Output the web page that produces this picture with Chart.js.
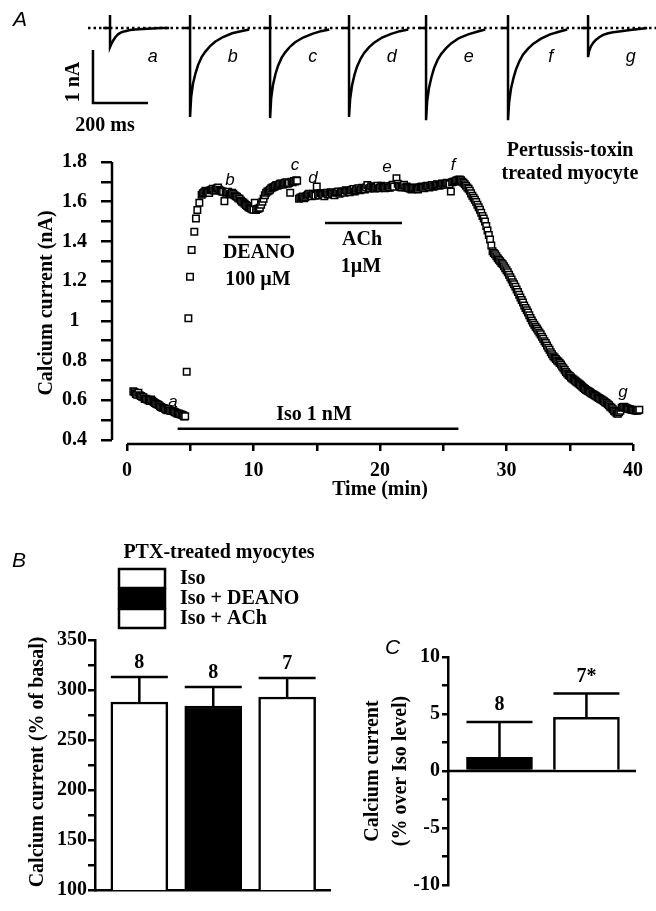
<!DOCTYPE html>
<html>
<head>
<meta charset="utf-8">
<script src="https://cdn.jsdelivr.net/npm/chart.js@4.4.1/dist/chart.umd.min.js"></script>
<style>
  body { margin: 0; background: #fff; }
  #page { position: relative; width: 656px; height: 911px; }
  #page canvas { position: absolute; left: 0; top: 0; }
</style>
</head>
<body>
<div id="page">
  <canvas id="traces" width="656" height="911"></canvas>
  <canvas id="timecourse" width="656" height="911"></canvas>
  <canvas id="panelB" width="656" height="911"></canvas>
  <canvas id="panelC" width="656" height="911"></canvas>
</div>
<script>
// ---- current traces (ms, nA) ----
const traceNames = ['a', 'b', 'c', 'd', 'e', 'f', 'g'];
const traceStartMs = [182, 473, 764, 1051, 1331, 1629, 1920];
const traceOffsetMs = [0, 4, 11, 20, 29, 42, 55, 73, 91, 120, 153, 185, 215];
const traceA = [-0.36, -0.31, -0.24, -0.17, -0.12, -0.08, -0.06, -0.04, -0.03, -0.02, -0.01, 0, 0];
const traceB = [-1.68, -1.30, -1.04, -0.85, -0.70, -0.55, -0.45, -0.34, -0.26, -0.17, -0.10, -0.06, -0.03];
const traceC = [-1.70, -1.32, -1.06, -0.86, -0.71, -0.56, -0.46, -0.35, -0.27, -0.18, -0.11, -0.06, -0.03];
const traceD = [-1.68, -1.34, -1.08, -0.88, -0.73, -0.58, -0.47, -0.36, -0.28, -0.18, -0.11, -0.06, -0.03];
const traceE = [-1.74, -1.38, -1.12, -0.92, -0.76, -0.60, -0.49, -0.38, -0.29, -0.19, -0.12, -0.07, -0.03];
const traceF = [-1.74, -1.40, -1.14, -0.94, -0.78, -0.62, -0.50, -0.39, -0.30, -0.20, -0.12, -0.07, -0.03];
const traceG = [-0.55, -0.43, -0.34, -0.27, -0.22, -0.17, -0.13, -0.10, -0.08, -0.06, -0.04, -0.02, 0];
const traceCurrents = [traceA, traceB, traceC, traceD, traceE, traceF, traceG];
const spikeTopNA = 0.245;
const scaleBarMs = [120, 120, 320];
const scaleBarNA = [-0.415, -1.415, -1.415];

// ---- time course (min, nA) ----
const basalPts = [[0.5,0.645],[0.6,0.640],[0.7,0.632],[0.8,0.628],[0.9,0.638],[1.0,0.626],[1.1,0.622],[1.2,0.618],
  [1.3,0.615],[1.4,0.606],[1.5,0.608],[1.6,0.604],[1.7,0.600],[1.8,0.596],[1.9,0.604],[2.0,0.598],[2.1,0.592],
  [2.2,0.586],[2.3,0.583],[2.4,0.580],[2.5,0.576],[2.6,0.570],[2.7,0.566],[2.8,0.563],[2.9,0.561],[3.0,0.558],
  [3.1,0.553],[3.2,0.550],[3.3,0.556],[3.4,0.549],[3.5,0.547],[3.6,0.546],[3.7,0.544],[3.8,0.540],[3.9,0.537],
  [4.0,0.532],[4.1,0.534],[4.2,0.530],[4.3,0.529],[4.38,0.526],[4.45,0.524],[4.52,0.518],[4.6,0.520]];
const risePts = [[4.72,0.744],[4.85,1.013],[4.98,1.222],[5.11,1.357],[5.32,1.449],[5.45,1.516],[5.56,1.558],[5.72,1.595]];
const deanoPts = [[5.9,1.635],[6.0,1.642],[6.1,1.648],[6.2,1.655],[6.3,1.652],[6.4,1.648],[6.5,1.644],[6.6,1.658],
  [6.7,1.662],[6.8,1.665],[6.9,1.655],[7.0,1.660],[7.1,1.668],[7.2,1.672],[7.3,1.660],[7.4,1.655],[7.5,1.652],
  [7.6,1.650],[7.7,1.603],[7.8,1.645],[7.9,1.648],[8.0,1.650],[8.1,1.640],[8.2,1.636],[8.3,1.645],[8.4,1.640],
  [8.5,1.632],[8.6,1.628],[8.7,1.625],[8.8,1.618],[8.9,1.615],[9.0,1.606],[9.1,1.600],[9.2,1.596],[9.3,1.590],
  [9.4,1.584],[9.5,1.578],[9.6,1.572],[9.7,1.570],[9.8,1.566],[9.9,1.562],[10.0,1.560],[10.1,1.595],[10.2,1.558],
  [10.3,1.563],[10.4,1.566],[10.5,1.570],[10.6,1.585],[10.7,1.600],[10.8,1.615],[10.9,1.632],[11.0,1.645],
  [11.1,1.652],[11.2,1.655],[11.3,1.660],[11.4,1.668],[11.5,1.672],[11.6,1.674],[11.7,1.678],[11.8,1.684],
  [11.9,1.680],[12.0,1.686],[12.1,1.690],[12.2,1.692],[12.3,1.686],[12.4,1.690],[12.5,1.695],[12.6,1.698],
  [12.7,1.690],[12.8,1.694],[12.9,1.645],[13.0,1.700],[13.1,1.698],[13.2,1.704],[13.3,1.702],[13.38,1.708],[13.45,1.705]];
const achPts = [[13.6,1.615],[13.7,1.620],[13.8,1.622],[13.9,1.626],[14.0,1.618],[14.1,1.622],[14.2,1.630],
  [14.3,1.636],[14.4,1.640],[14.5,1.632],[14.6,1.628],[14.7,1.640],[14.8,1.635],[14.9,1.630],[15.0,1.676],
  [15.1,1.638],[15.2,1.632],[15.3,1.644],[15.4,1.640],[15.5,1.634],[15.6,1.628],[15.7,1.642],[15.8,1.645],
  [15.9,1.636],[16.0,1.638],[16.1,1.648],[16.2,1.642],[16.3,1.640],[16.4,1.632],[16.5,1.645],[16.6,1.648],
  [16.7,1.652],[16.8,1.640],[16.9,1.646],[17.0,1.652],[17.1,1.650],[17.2,1.645],[17.3,1.658],[17.4,1.655],
  [17.5,1.652],[17.6,1.648],[17.7,1.656],[17.8,1.660],[17.9,1.664],[18.0,1.652],[18.1,1.658],[18.2,1.665],
  [18.3,1.668],[18.4,1.658],[18.5,1.662],[18.6,1.670],[18.7,1.665],[18.8,1.662],[18.9,1.672],[19.0,1.684],
  [19.1,1.666],[19.2,1.668],[19.3,1.678],[19.4,1.675],[19.5,1.670],[19.6,1.666],[19.7,1.674],[19.8,1.680],
  [19.9,1.668],[20.0,1.670],[20.1,1.680],[20.2,1.675],[20.3,1.672],[20.4,1.668],[20.5,1.676],[20.6,1.678],
  [20.7,1.670],[20.8,1.672],[20.9,1.680],[21.0,1.685],[21.1,1.676],[21.3,1.718],[21.4,1.690],[21.5,1.680],
  [21.6,1.676],[21.7,1.672],[21.8,1.680],[21.9,1.685],[22.0,1.672],[22.1,1.676],[22.2,1.670],[22.3,1.668],
  [22.4,1.665],[22.5,1.662],[22.6,1.668],[22.7,1.672],[22.8,1.670],[22.9,1.665],[23.0,1.662],[23.1,1.670],
  [23.2,1.674],[23.3,1.676],[23.4,1.672],[23.5,1.668],[23.6,1.676],[23.7,1.680],[23.8,1.678],[23.9,1.672],
  [24.0,1.680],[24.1,1.684],[24.2,1.676],[24.3,1.678],[24.4,1.684],[24.5,1.688],[24.6,1.686],[24.7,1.680],
  [24.8,1.684],[24.9,1.692],[25.0,1.690],[25.1,1.686],[25.2,1.692],[25.3,1.695],[25.4,1.690],[25.5,1.688],
  [25.6,1.652],[25.7,1.698],[25.8,1.700],[25.9,1.702],[26.0,1.705],[26.1,1.708],[26.2,1.710],[26.3,1.712]];
const washPts = [[26.4,1.708],[26.5,1.700],[26.6,1.695],[26.7,1.688],[26.8,1.680],[26.9,1.672],[27.0,1.665],
  [27.1,1.655],[27.2,1.642],[27.3,1.630],[27.4,1.620],[27.5,1.610],[27.6,1.598],[27.7,1.585],[27.8,1.572],
  [27.9,1.560],[28.0,1.545],[28.1,1.528],[28.2,1.515],[28.3,1.500],[28.4,1.478],[28.5,1.455],[28.6,1.432],
  [28.7,1.410],[28.8,1.380],[28.9,1.350],[29.0,1.342],[29.1,1.335],[29.2,1.325],[29.3,1.315],[29.4,1.308],
  [29.5,1.300],[29.6,1.292],[29.7,1.285],[29.8,1.275],[29.9,1.265],[30.0,1.255],[30.1,1.245],[30.2,1.232],
  [30.3,1.220],[30.4,1.208],[30.5,1.195],[30.6,1.184],[30.7,1.172],[30.8,1.158],[30.9,1.145],[31.0,1.132],
  [31.1,1.118],[31.2,1.105],[31.3,1.092],[31.4,1.078],[31.5,1.065],[31.6,1.054],[31.7,1.042],[31.8,1.028],
  [31.9,1.015],[32.0,1.002],[32.1,0.990],[32.2,0.980],[32.3,0.970],[32.4,0.962],[32.5,0.952],[32.6,0.942],
  [32.7,0.932],[32.8,0.920],[32.9,0.910],[33.0,0.898],[33.1,0.888],[33.2,0.876],[33.3,0.865],[33.4,0.854],
  [33.5,0.842],[33.6,0.832],[33.7,0.822],[33.8,0.815],[33.9,0.808],[34.0,0.800],[34.1,0.795],[34.2,0.788],
  [34.3,0.780],[34.4,0.770],[34.5,0.762],[34.6,0.752],[34.7,0.742],[34.8,0.735],[34.9,0.728],[35.0,0.722],
  [35.1,0.715],[35.2,0.710],[35.3,0.705],[35.4,0.700],[35.5,0.695],[35.6,0.690],[35.7,0.685],[35.8,0.680],
  [35.9,0.675],[36.0,0.668],[36.1,0.662],[36.2,0.657],[36.3,0.652],[36.4,0.648],[36.5,0.644],[36.6,0.640],
  [36.7,0.636],[36.8,0.632],[36.9,0.628],[37.0,0.624],[37.1,0.620],[37.2,0.616],[37.3,0.612],[37.4,0.608],
  [37.5,0.604],[37.6,0.600],[37.7,0.595],[37.8,0.590],[37.9,0.586],[38.0,0.580],[38.1,0.575],[38.2,0.568],
  [38.3,0.562],[38.4,0.555],[38.5,0.548],[38.6,0.542],[38.7,0.535],[38.8,0.532],[38.9,0.540],[39.0,0.548],
  [39.1,0.562],[39.2,0.566],[39.3,0.568],[39.4,0.564],[39.5,0.560],[39.6,0.558],[39.7,0.556],[39.8,0.554],
  [39.9,0.552],[40.0,0.551],[40.1,0.550],[40.2,0.549],[40.3,0.548],[40.4,0.550],[40.5,0.552]];
const sweepMarkT = [3.64, 8.14, 13.28, 14.7, 20.55, 25.77, 39.2];
const sweepMarkI = [0.591, 1.709, 1.785, 1.72, 1.775, 1.785, 0.641];
const deanoBarT = [8.0, 12.9], deanoBarI = 1.422;
const achBarT = [15.65, 21.74], achBarI = 1.493;
const isoBarT = [4.0, 26.2], isoBarI = 0.457;
const timeTicks = [0, 5, 10, 15, 20, 25, 30, 35, 40];
const timeTickLabels = ['0', '', '10', '', '20', '', '30', '', '40'];
const currentTicks = [0.4, 0.5, 0.6, 0.7, 0.8, 0.9, 1.0, 1.1, 1.2, 1.3, 1.4, 1.5, 1.6, 1.7, 1.8];
const currentTickLabels = ['0.4', '', '0.6', '', '0.8', '', '1', '', '1.2', '', '1.4', '', '1.6', '', '1.8'];

// ---- panel B (% of basal) ----
const groupsB = ['Iso', 'Iso + DEANO', 'Iso + ACh'];
const meanB = [288, 284, 293];
const semB = [25, 19, 19];
const nB = ['8', '8', '7'];
const ticksB = [100, 125, 150, 175, 200, 225, 250, 275, 300, 325, 350];
const tickLabelsB = ['100', '', '150', '', '200', '', '250', '', '300', '', '350'];

// ---- panel C (% over Iso level) ----
const groupsC = ['Iso + DEANO', 'Iso + ACh'];
const meanC = [1.2, 4.7];
const semC = [3.1, 2.1];
const nC = ['8', '7*'];
const ticksC = [-10, -7.5, -5, -2.5, 0, 2.5, 5, 7.5, 10];
const tickLabelsC = ['-10', '', '-5', '', '0', '', '5', '', '10'];

Chart.defaults.font.family = 'Liberation Serif';
Chart.defaults.font.weight = 'bold';
Chart.defaults.font.size = 20;
Chart.defaults.color = '#000';
Chart.defaults.animation = false;
Chart.defaults.responsive = false;
Chart.defaults.plugins.legend.display = false;
Chart.defaults.plugins.tooltip.enabled = false;
Chart.defaults.plugins.colors.enabled = false;

const BOLD = 'bold 20px "Liberation Serif"';
const italic = size => `italic ${size}px "Liberation Sans"`;

function label(ctx, text, x, y, font, align = 'center', rotate = 0) {
    ctx.save();
    ctx.translate(x, y);
    if (rotate) ctx.rotate(rotate);
    ctx.font = font;
    ctx.fillStyle = '#000';
    ctx.textAlign = align;
    ctx.textBaseline = 'middle';
    ctx.fillText(text, 0, 0);
    ctx.restore();
}

function fixedSize(size) {
    return s => { if (s.isHorizontal()) s.height = size; else s.width = size; };
}

function setTicks(values) {
    return s => { s.ticks = values.map(v => ({ value: v })); };
}

function tickAxis(values, labels, tickLength, padding, extra = {}) {
    return {
        afterBuildTicks: setTicks(values),
        ticks: { callback: (v, i) => labels[i], autoSkip: false, maxRotation: 0, padding: padding, ...extra },
        grid: { drawOnChartArea: false, color: '#000', lineWidth: 2.5, tickLength: tickLength, offset: false },
        border: { display: false }
    };
}

// ---------- top: example traces ----------
const traceLine = data => ({ data: data, showLine: true, pointRadius: 0, borderColor: '#000', borderWidth: 2.5, tension: 0, clip: false });
const traceSets = [{ ...traceLine([{ x: 102, y: 0 }, { x: 2167, y: 0 }]), borderDash: [2.5, 3] }];
traceStartMs.forEach((t0, i) => {
    const cur = traceCurrents[i];
    const pts = [{ x: t0 - 25, y: 0 }, { x: t0, y: 0 }, { x: t0, y: spikeTopNA }, { x: t0, y: cur[0] }];
    traceOffsetMs.forEach((dt, j) => pts.push({ x: t0 + dt, y: cur[j] }));
    traceSets.push(traceLine(pts));
});
traceSets.push(traceLine(scaleBarMs.map((x, i) => ({ x: x, y: scaleBarNA[i] }))));

new Chart(document.getElementById('traces'), {
    type: 'scatter',
    data: { datasets: traceSets },
    options: {
        layout: { padding: { left: 0, top: 0, right: 0, bottom: 771 } },
        scales: {
            x: { type: 'linear', display: false, min: -218, max: 2167 },
            y: { type: 'linear', display: false, min: -2.113, max: 0.528 }
        }
    },
    plugins: [{
        id: 'traceText',
        afterDraw(chart) {
            const { ctx, scales: { x, y } } = chart;
            label(ctx, 'A', 13, 20, italic(21), 'left');
            traceNames.forEach((n, i) => label(ctx, n, x.getPixelForValue(traceStartMs[i] + 155), y.getPixelForValue(-0.55), italic(18)));
            label(ctx, '1 nA', 74, 82, BOLD, 'center', -Math.PI / 2);
            label(ctx, '200 ms', 105, 126, BOLD);
        }
    }]
});

// ---------- panel A: time course ----------
const allPts = [...basalPts, ...risePts, ...deanoPts, ...achPts, ...washPts];
const barLine = (t, v) => ({ data: t.map(x => ({ x: x, y: v })), showLine: true, pointRadius: 0, borderColor: '#000', borderWidth: 2.5 });

new Chart(document.getElementById('timecourse'), {
    type: 'scatter',
    data: {
        datasets: [
            barLine(deanoBarT, deanoBarI),
            barLine(achBarT, achBarI),
            barLine(isoBarT, isoBarI),
            {
                data: allPts.map(p => ({ x: p[0], y: p[1] })),
                pointStyle: 'rect', pointRadius: 4.6, borderWidth: 1.5,
                borderColor: '#000', backgroundColor: '#fff'
            }
        ]
    },
    options: {
        layout: { padding: { left: 0, top: 162, right: 7.8, bottom: 0 } },
        scales: {
            x: { type: 'linear', min: -1.186, max: 41.2, afterFit: fixedSize(911 - 444), ...tickAxis(timeTicks, timeTickLabels, 7, 8) },
            y: { type: 'linear', min: 0.38, max: 1.8, afterFit: fixedSize(112), ...tickAxis(currentTicks, currentTickLabels, 11, 14, { crossAlign: 'center' }) }
        }
    },
    plugins: [{
        id: 'timecourseText',
        beforeDatasetsDraw(chart) {
            const { ctx, scales: { x, y } } = chart;
            ctx.save();
            ctx.strokeStyle = '#000';
            ctx.lineWidth = 2.5;
            ctx.beginPath();
            ctx.moveTo(x.getPixelForValue(0), y.bottom);
            ctx.lineTo(x.getPixelForValue(40), y.bottom);
            ctx.moveTo(x.left, y.getPixelForValue(0.4));
            ctx.lineTo(x.left, y.getPixelForValue(1.8));
            ctx.stroke();
            ctx.restore();
        },
        afterDraw(chart) {
            const { ctx, scales: { x, y } } = chart;
            traceNames.forEach((n, i) => label(ctx, n, x.getPixelForValue(sweepMarkT[i]), y.getPixelForValue(sweepMarkI[i]), italic(17)));
            label(ctx, 'Pertussis-toxin', 570, 151, BOLD);
            label(ctx, 'treated myocyte', 570, 174, BOLD);
            label(ctx, 'DEANO', 259, 253, BOLD);
            label(ctx, '100 \u00B5M', 258, 280, BOLD);
            label(ctx, 'ACh', 362, 240, BOLD);
            label(ctx, '1\u00B5M', 361, 267, BOLD);
            label(ctx, 'Iso 1 nM', 314, 415, BOLD);
            label(ctx, 'Time (min)', 380, 490, BOLD);
            label(ctx, 'Calcium current (nA)', 47, 303, BOLD, 'center', -Math.PI / 2);
        }
    }]
});

// ---------- error bars for B and C ----------
const errorBars = {
    id: 'errorBars',
    afterDatasetsDraw(chart, args, opts) {
        const { ctx } = chart;
        const y = chart.scales.y;
        ctx.save();
        ctx.strokeStyle = '#000';
        ctx.lineWidth = 2.5;
        chart.getDatasetMeta(0).data.forEach((bar, i) => {
            const top = y.getPixelForValue(opts.mean[i] + opts.sem[i]);
            const half = bar.width / 2;
            ctx.beginPath();
            ctx.moveTo(bar.x, bar.y);
            ctx.lineTo(bar.x, top);
            ctx.moveTo(bar.x - half, top);
            ctx.lineTo(bar.x + half, top);
            ctx.stroke();
            label(ctx, opts.n[i], bar.x, top - opts.gap, BOLD);
        });
        ctx.restore();
    }
};

// ---------- panel B ----------
new Chart(document.getElementById('panelB'), {
    type: 'bar',
    data: {
        labels: groupsB,
        datasets: [{
            data: meanB.map((v, i) => ({ x: i + 1, y: v })),
            backgroundColor: ['#fff', '#000', '#fff'],
            borderColor: '#000', borderWidth: 2.5, barThickness: 57
        }]
    },
    options: {
        layout: { padding: { left: 0, top: 640, right: 326, bottom: 0 } },
        plugins: { errorBars: { mean: meanB, sem: semB, n: nB, gap: 14 } },
        scales: {
            x: {
                type: 'linear', min: 0.4, max: 3.58, offset: false, afterFit: fixedSize(911 - 890),
                ticks: { display: false },
                grid: { display: true, drawOnChartArea: false, drawTicks: false, offset: false },
                border: { display: true, color: '#000', width: 2.5 }
            },
            y: {
                type: 'linear', min: 100, max: 350, afterFit: fixedSize(95),
                ...tickAxis(ticksB, tickLabelsB, 7, 1),
                border: { display: true, color: '#000', width: 2.5 }
            }
        }
    },
    plugins: [errorBars, {
        id: 'legendB',
        afterDraw(chart) {
            const { ctx } = chart;
            label(ctx, 'B', 12, 561, italic(21), 'left');
            label(ctx, 'PTX-treated myocytes', 219, 553, BOLD);
            ctx.save();
            ctx.lineWidth = 2.5;
            ctx.strokeStyle = '#000';
            groupsB.forEach((g, i) => {
                const top = 569 + i * 20;
                ctx.fillStyle = i === 1 ? '#000' : '#fff';
                ctx.fillRect(119, top, 46, 19);
                ctx.strokeRect(119, top, 46, 19);
                label(ctx, g, 180, top + 10, BOLD, 'left');
            });
            ctx.restore();
            label(ctx, 'Calcium current (% of basal)', 38, 762, BOLD, 'center', -Math.PI / 2);
        }
    }]
});

// ---------- panel C ----------
new Chart(document.getElementById('panelC'), {
    type: 'bar',
    data: {
        labels: groupsC,
        datasets: [{
            data: meanC.map((v, i) => ({ x: i + 1, y: v })),
            backgroundColor: ['#000', '#fff'],
            borderColor: '#000', borderWidth: 2.5, barThickness: 66
        }]
    },
    options: {
        layout: { padding: { left: 0, top: 657, right: 20, bottom: 0 } },
        plugins: { errorBars: { mean: meanC, sem: semC, n: nC, gap: 17 } },
        scales: {
            x: {
                type: 'linear', min: 0.408, max: 2.57, offset: false, afterFit: fixedSize(911 - 885),
                ticks: { display: false },
                grid: { display: false },
                border: { display: false }
            },
            y: {
                type: 'linear', min: -10, max: 10, afterFit: fixedSize(448),
                ...tickAxis(ticksC, tickLabelsC, 6, 2),
                border: { display: true, color: '#000', width: 2.5 }
            }
        }
    },
    plugins: [errorBars, {
        id: 'textC',
        beforeDatasetsDraw(chart) {
            const { ctx, chartArea, scales: { y } } = chart;
            ctx.save();
            ctx.strokeStyle = '#000';
            ctx.lineWidth = 2.5;
            ctx.beginPath();
            ctx.moveTo(chartArea.left, y.getPixelForValue(0));
            ctx.lineTo(chartArea.right, y.getPixelForValue(0));
            ctx.stroke();
            ctx.restore();
        },
        afterDraw(chart) {
            const { ctx } = chart;
            label(ctx, 'C', 385, 648, italic(21), 'left');
            label(ctx, 'Calcium current', 373, 771, BOLD, 'center', -Math.PI / 2);
            label(ctx, '(% over Iso level)', 401, 771, BOLD, 'center', -Math.PI / 2);
        }
    }]
});
</script>
</body>
</html>
